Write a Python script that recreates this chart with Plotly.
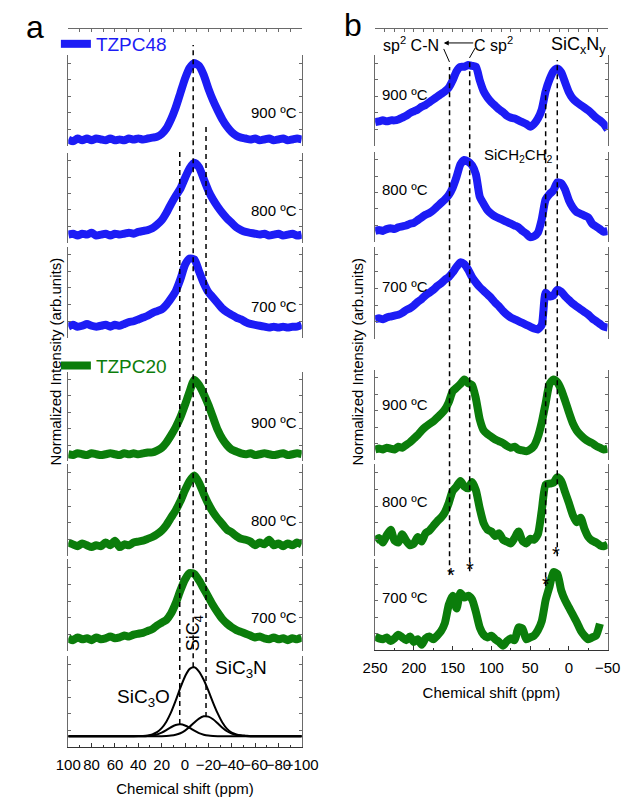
import plotly.graph_objects as go

W, H = 638, 797

# ---------------- data ----------------
# Panel a: 29Si spectra, chemical shift grid (ppm)
ppm_a = [100, 96, 92, 88, 84, 80, 76, 72, 68, 64, 60, 56, 52, 48, 44, 40, 36, 32, 28, 24,
         20, 16, 12, 8, 4, 0, -4, -8, -12, -16, -20, -24, -28, -32, -36, -40, -44, -48, -52, -56,
         -60, -64, -68, -72, -76, -80, -84, -88, -92, -96, -100]

a_tzpc48_900 = [0.07, 0.05, 0.08, 0.06, 0.08, 0.06, 0.08, 0.07, 0.06, 0.08, 0.06, 0.07, 0.06, 0.08, 0.07, 0.08, 0.07, 0.08, 0.09, 0.10,
                0.13, 0.19, 0.29, 0.42, 0.58, 0.74, 0.86, 0.91, 0.88, 0.78, 0.63, 0.50, 0.39, 0.29, 0.21, 0.15, 0.11, 0.09, 0.08, 0.07,
                0.08, 0.06, 0.07, 0.08, 0.06, 0.07, 0.08, 0.06, 0.07, 0.08, 0.07]
a_tzpc48_800 = [0.09, 0.10, 0.08, 0.10, 0.09, 0.11, 0.08, 0.09, 0.10, 0.08, 0.10, 0.09, 0.10, 0.11, 0.10, 0.12, 0.13, 0.14, 0.16, 0.20,
                0.25, 0.33, 0.43, 0.52, 0.60, 0.72, 0.83, 0.89, 0.84, 0.71, 0.58, 0.48, 0.40, 0.33, 0.27, 0.22, 0.17, 0.14, 0.12, 0.11,
                0.10, 0.09, 0.10, 0.08, 0.09, 0.10, 0.08, 0.09, 0.10, 0.08, 0.09]
a_tzpc48_700 = [0.12, 0.14, 0.12, 0.13, 0.15, 0.13, 0.12, 0.13, 0.14, 0.12, 0.14, 0.13, 0.15, 0.17, 0.18, 0.20, 0.22, 0.24, 0.27, 0.29,
                0.31, 0.36, 0.43, 0.51, 0.64, 0.80, 0.87, 0.86, 0.73, 0.60, 0.50, 0.44, 0.38, 0.32, 0.28, 0.25, 0.22, 0.20, 0.17, 0.15,
                0.14, 0.13, 0.12, 0.11, 0.12, 0.11, 0.12, 0.11, 0.12, 0.12, 0.14]
a_tzpc20_900 = [0.08, 0.07, 0.09, 0.08, 0.07, 0.09, 0.08, 0.07, 0.08, 0.09, 0.08, 0.07, 0.09, 0.08, 0.09, 0.08, 0.09, 0.10, 0.10, 0.12,
                0.15, 0.21, 0.29, 0.38, 0.49, 0.63, 0.78, 0.91, 0.85, 0.75, 0.63, 0.49, 0.35, 0.25, 0.18, 0.13, 0.11, 0.09, 0.08, 0.09,
                0.07, 0.08, 0.09, 0.08, 0.07, 0.08, 0.09, 0.07, 0.08, 0.09, 0.08]
a_tzpc20_800 = [0.15, 0.13, 0.11, 0.14, 0.12, 0.10, 0.12, 0.11, 0.15, 0.12, 0.17, 0.10, 0.13, 0.12, 0.15, 0.16, 0.17, 0.19, 0.21, 0.24,
                0.28, 0.34, 0.42, 0.50, 0.60, 0.72, 0.82, 0.88, 0.80, 0.68, 0.57, 0.48, 0.41, 0.35, 0.29, 0.26, 0.22, 0.19, 0.18, 0.16,
                0.12, 0.15, 0.13, 0.18, 0.12, 0.14, 0.11, 0.14, 0.12, 0.15, 0.13]
a_tzpc20_700 = [0.14, 0.12, 0.15, 0.13, 0.14, 0.12, 0.15, 0.13, 0.14, 0.16, 0.14, 0.15, 0.17, 0.16, 0.18, 0.19, 0.20, 0.22, 0.24, 0.28,
                0.31, 0.34, 0.41, 0.52, 0.66, 0.78, 0.85, 0.84, 0.77, 0.68, 0.59, 0.50, 0.42, 0.35, 0.30, 0.26, 0.23, 0.21, 0.19, 0.17,
                0.15, 0.16, 0.14, 0.13, 0.15, 0.13, 0.14, 0.12, 0.14, 0.13, 0.15]

# deconvolution components (bottom layer of panel a)
fit_sic4 = [0.12, 0.12, 0.12, 0.12, 0.12, 0.12, 0.12, 0.12, 0.12, 0.12, 0.12, 0.12, 0.12, 0.12, 0.12, 0.121, 0.123, 0.128, 0.14, 0.164,
            0.208, 0.279, 0.381, 0.51, 0.651, 0.777, 0.86, 0.878, 0.83, 0.74, 0.62, 0.49, 0.37, 0.27, 0.20, 0.16, 0.14, 0.13, 0.125, 0.12,
            0.12, 0.12, 0.12, 0.12, 0.12, 0.12, 0.12, 0.12, 0.12, 0.12, 0.12]
fit_sic3o = [0.12, 0.12, 0.12, 0.12, 0.12, 0.12, 0.12, 0.12, 0.12, 0.12, 0.12, 0.12, 0.12, 0.12, 0.12, 0.12, 0.12, 0.123, 0.128, 0.139,
             0.159, 0.187, 0.218, 0.242, 0.25, 0.237, 0.211, 0.18, 0.153, 0.136, 0.126, 0.122, 0.12, 0.12, 0.12, 0.12, 0.12, 0.12, 0.12, 0.12,
             0.12, 0.12, 0.12, 0.12, 0.12, 0.12, 0.12, 0.12, 0.12, 0.12, 0.12]
fit_sic3n = [0.12, 0.12, 0.12, 0.12, 0.12, 0.12, 0.12, 0.12, 0.12, 0.12, 0.12, 0.12, 0.12, 0.12, 0.12, 0.12, 0.12, 0.12, 0.12, 0.12,
             0.12, 0.122, 0.126, 0.135, 0.152, 0.181, 0.223, 0.27, 0.313, 0.338, 0.335, 0.306, 0.261, 0.213, 0.174, 0.148, 0.132, 0.125, 0.122, 0.12,
             0.12, 0.12, 0.12, 0.12, 0.12, 0.12, 0.12, 0.12, 0.12, 0.12, 0.12]

# Panel b: 13C spectra
ppm_b = [250, 245, 240, 235, 230, 225, 220, 215, 210, 205, 200, 195, 190, 185, 180, 175, 170, 165, 160, 155,
         150, 145, 140, 135, 130, 125, 120, 115, 110, 105, 100, 95, 90, 85, 80, 75, 70, 65, 60, 55,
         50, 45, 40, 35, 30, 25, 20, 15, 10, 5, 0, -5, -10, -15, -20, -25, -30, -35, -40, -45, -50]

b_tzpc48_900 = [0.26, 0.27, 0.28, 0.27, 0.28, 0.28, 0.29, 0.31, 0.33, 0.36, 0.38, 0.40, 0.43, 0.45, 0.48, 0.51, 0.54, 0.57, 0.60, 0.64,
                0.72, 0.82, 0.87, 0.87, 0.89, 0.88, 0.87, 0.72, 0.60, 0.53, 0.48, 0.44, 0.40, 0.37, 0.33, 0.31, 0.30, 0.28, 0.26, 0.24,
                0.21, 0.24, 0.30, 0.40, 0.60, 0.73, 0.82, 0.85, 0.81, 0.70, 0.59, 0.52, 0.48, 0.45, 0.42, 0.39, 0.35, 0.31, 0.28, 0.24, 0.18]
b_tzpc48_800 = [0.12, 0.13, 0.12, 0.14, 0.15, 0.14, 0.16, 0.17, 0.18, 0.20, 0.21, 0.24, 0.27, 0.30, 0.32, 0.35, 0.39, 0.43, 0.47, 0.52,
                0.60, 0.72, 0.86, 0.91, 0.89, 0.85, 0.75, 0.50, 0.42, 0.35, 0.31, 0.28, 0.26, 0.24, 0.22, 0.20, 0.18, 0.16, 0.12, 0.09,
                0.05, 0.06, 0.10, 0.25, 0.47, 0.53, 0.57, 0.66, 0.65, 0.58, 0.46, 0.38, 0.33, 0.31, 0.29, 0.27, 0.20, 0.17, 0.14, 0.11, 0.12]
b_tzpc48_700 = [0.21, 0.22, 0.21, 0.23, 0.24, 0.25, 0.26, 0.28, 0.31, 0.33, 0.36, 0.40, 0.43, 0.47, 0.50, 0.53, 0.57, 0.60, 0.64, 0.67,
                0.72, 0.78, 0.83, 0.81, 0.75, 0.67, 0.61, 0.56, 0.52, 0.48, 0.44, 0.39, 0.35, 0.30, 0.26, 0.23, 0.21, 0.19, 0.17, 0.15,
                0.13, 0.11, 0.10, 0.15, 0.50, 0.46, 0.47, 0.53, 0.51, 0.46, 0.42, 0.38, 0.35, 0.32, 0.29, 0.26, 0.22, 0.19, 0.16, 0.13, 0.12]
b_tzpc20_900 = [0.12, 0.13, 0.12, 0.14, 0.13, 0.12, 0.15, 0.14, 0.17, 0.20, 0.24, 0.28, 0.33, 0.37, 0.40, 0.43, 0.47, 0.51, 0.56, 0.64,
                0.76, 0.80, 0.84, 0.89, 0.85, 0.83, 0.68, 0.45, 0.33, 0.29, 0.26, 0.23, 0.21, 0.19, 0.16, 0.14, 0.15, 0.12, 0.11, 0.10,
                0.12, 0.16, 0.26, 0.42, 0.63, 0.84, 0.89, 0.86, 0.78, 0.66, 0.53, 0.41, 0.33, 0.28, 0.24, 0.21, 0.19, 0.16, 0.14, 0.12, 0.13]
b_tzpc20_800 = [0.17, 0.20, 0.15, 0.23, 0.29, 0.17, 0.15, 0.24, 0.17, 0.12, 0.14, 0.21, 0.16, 0.25, 0.28, 0.33, 0.38, 0.42, 0.48, 0.58,
                0.71, 0.76, 0.82, 0.76, 0.74, 0.81, 0.72, 0.52, 0.36, 0.29, 0.27, 0.22, 0.25, 0.18, 0.16, 0.14, 0.20, 0.27, 0.17, 0.14,
                0.19, 0.18, 0.24, 0.50, 0.78, 0.79, 0.80, 0.86, 0.82, 0.70, 0.58, 0.45, 0.37, 0.42, 0.30, 0.21, 0.17, 0.15, 0.12, 0.11, 0.13]
b_tzpc20_700 = [0.15, 0.13, 0.12, 0.14, 0.10, 0.13, 0.17, 0.14, 0.11, 0.15, 0.09, 0.12, 0.06, 0.13, 0.15, 0.12, 0.16, 0.21, 0.30, 0.50,
                0.60, 0.46, 0.63, 0.58, 0.60, 0.56, 0.42, 0.25, 0.17, 0.14, 0.16, 0.12, 0.09, 0.05, 0.10, 0.13, 0.11, 0.25, 0.24, 0.12,
                0.14, 0.16, 0.22, 0.32, 0.55, 0.70, 0.86, 0.84, 0.66, 0.55, 0.47, 0.39, 0.31, 0.22, 0.16, 0.12, 0.14, 0.16, 0.29, None, None]

temps = ["900 ºC", "800 ºC", "700 ºC"]
a_ref_ppm = [4.5, -7, -18]          # SiC3O, SiC4, SiC3N
b_ref_ppm = [154, 128, 30, 15]      # sp2 C-N, C sp2, SiCH2CH2, SiCxNy
b_star_ppm = [152, 128, 30, 17]

BLUE = "#1c1cf5"
GREEN = "#0b7d0b"
FONT = "Liberation Sans, Arial, sans-serif"

# ---------------- geometry (pixels) ----------------
A_L, A_R = 58, 303
B_L, B_R = 380, 624
segs_a = [(55, 146), (153, 243), (247, 338), (372, 462), (465, 557), (560, 652), (657, 748)]
segs_b = [(55, 146), (152, 242), (247, 339), (370, 461), (465, 557), (560, 651)]


def px(x):
    return x / W


def py(y):
    return 1 - y / H


fig = go.Figure()

a_series = [(a_tzpc48_900, BLUE, "TZPC48", "legend"), (a_tzpc48_800, BLUE, None, None), (a_tzpc48_700, BLUE, None, None),
            (a_tzpc20_900, GREEN, "TZPC20", "legend2"), (a_tzpc20_800, GREEN, None, None), (a_tzpc20_700, GREEN, None, None)]
for i, (vals, col, name, leg) in enumerate(a_series):
    yname = "y" if i == 0 else f"y{i + 1}"
    kw = dict(showlegend=False)
    if name:
        kw = dict(showlegend=True, name=name, legend=leg)
    fig.add_trace(go.Scatter(x=ppm_a, y=vals, xaxis="x", yaxis=yname, mode="lines",
                             line=dict(color=col, width=8, shape="spline", smoothing=0.6), hoverinfo="skip", **kw))

for vals in (fit_sic4, fit_sic3o, fit_sic3n):
    fig.add_trace(go.Scatter(x=ppm_a, y=vals, xaxis="x", yaxis="y7", mode="lines",
                             line=dict(color="black", width=2, shape="spline", smoothing=0.8),
                             showlegend=False, hoverinfo="skip"))

b_series = [(b_tzpc48_900, BLUE), (b_tzpc48_800, BLUE), (b_tzpc48_700, BLUE),
            (b_tzpc20_900, GREEN), (b_tzpc20_800, GREEN), (b_tzpc20_700, GREEN)]
for i, (vals, col) in enumerate(b_series):
    fig.add_trace(go.Scatter(x=ppm_b, y=vals, xaxis="x2", yaxis=f"y{i + 8}", mode="lines",
                             line=dict(color=col, width=8, shape="spline", smoothing=0.6),
                             showlegend=False, hoverinfo="skip"))

# dummy traces for the top frame axes
fig.add_trace(go.Scatter(x=[0], y=[0.5], xaxis="x3", yaxis="y", mode="markers",
                         marker=dict(opacity=0), showlegend=False, hoverinfo="skip"))
fig.add_trace(go.Scatter(x=[100], y=[0.5], xaxis="x4", yaxis="y8", mode="markers",
                         marker=dict(opacity=0), showlegend=False, hoverinfo="skip"))

AXC = "#6a6a6a"
yax_common = dict(range=[0, 1], showline=True, linecolor=AXC, linewidth=1, mirror="ticks", ticks="inside",
                  ticklen=3, tickcolor=AXC, tick0=0, dtick=0.182, showticklabels=False, showgrid=False,
                  zeroline=False, fixedrange=True)
layout = dict(width=W, height=H, margin=dict(l=0, r=0, t=0, b=0), plot_bgcolor="white",
              paper_bgcolor="white", font=dict(family=FONT, color="black"))
for i, (t, b) in enumerate(segs_a):
    name = "yaxis" if i == 0 else f"yaxis{i + 1}"
    layout[name] = dict(yax_common, domain=[py(b), py(t)], anchor="x")
for i, (t, b) in enumerate(segs_b):
    layout[f"yaxis{i + 8}"] = dict(yax_common, domain=[py(b), py(t)], anchor="x2")

xbase = dict(showline=True, linecolor="#333", linewidth=1, ticks="inside", ticklen=4, tickcolor="#333",
             tickmode="linear", tick0=0, showgrid=False, zeroline=False, fixedrange=True, tickangle=0,
             ticklabelstandoff=4, tickfont=dict(size=15, family=FONT, color="black"))
layout["xaxis"] = dict(xbase, domain=[px(A_L), px(A_R)], range=[100, -100], anchor="y7", dtick=20,
                       minor=dict(ticks="inside", ticklen=2, tickcolor="#333", dtick=10),
                       title=dict(text="Chemical shift (ppm)", font=dict(size=15), standoff=13))
layout["xaxis2"] = dict(xbase, domain=[px(B_L), px(B_R)], range=[250, -50], anchor="y13", dtick=50,
                        minor=dict(ticks="inside", ticklen=2, tickcolor="#333", dtick=25),
                        title=dict(text="Chemical shift (ppm)", font=dict(size=15), standoff=12))
top_common = dict(showline=True, linecolor=AXC, linewidth=1, ticks="inside", ticklen=3, tickcolor=AXC,
                  tickmode="linear", tick0=0, showticklabels=False, showgrid=False, zeroline=False,
                  fixedrange=True, side="top", anchor="free", position=py(28))
layout["xaxis3"] = dict(top_common, domain=[px(A_L), px(A_R)], range=[100, -100], dtick=10, overlaying="x")
layout["xaxis4"] = dict(top_common, domain=[px(B_L), px(B_R)], range=[250, -50], dtick=12.5, overlaying="x2")

layout["legend"] = dict(x=px(45), y=py(25), xanchor="left", yanchor="top", bgcolor="rgba(0,0,0,0)",
                        font=dict(size=19, color=BLUE, family=FONT), itemwidth=30, tracegroupgap=0)
layout["legend2"] = dict(x=px(45), y=py(347), xanchor="left", yanchor="top", bgcolor="rgba(0,0,0,0)",
                         font=dict(size=19, color=GREEN, family=FONT), itemwidth=30, tracegroupgap=0)
fig.update_layout(**layout)

# ---------------- dashed reference lines ----------------
DASH = dict(color="black", width=1.5, dash="5px,4px")
a_lines = [(150, 725), (45, 668), (125, 718)]
for p, (y0, y1) in zip(a_ref_ppm, a_lines):
    fig.add_shape(type="line", xref="x", yref="paper", x0=p, x1=p, y0=py(y1), y1=py(y0), line=DASH)
b_lines = [(67, 575), (60, 572), (90, 587), (60, 557)]
for p, (y0, y1) in zip(b_ref_ppm, b_lines):
    fig.add_shape(type="line", xref="x2", yref="paper", x0=p, x1=p, y0=py(y1), y1=py(y0), line=DASH)

# connector strokes next to the labels in panel b
fig.add_shape(type="line", xref="paper", yref="paper", x0=px(452), y0=py(49), x1=px(458), y1=py(62),
              line=dict(color="black", width=1))
fig.add_shape(type="line", xref="paper", yref="paper", x0=px(479), y0=py(58), x1=px(485), y1=py(48),
              line=dict(color="black", width=1))

# ---------------- text ----------------
def note(text, x, y, size=15, xanchor="center", angle=0, color="black"):
    fig.add_annotation(text=text, x=px(x), y=py(y), xref="paper", yref="paper", showarrow=False,
                       xanchor=xanchor, yanchor="middle", textangle=angle,
                       font=dict(size=size, color=color, family=FONT))

note("a", 23, 27, size=32)
note("b", 357, 25, size=32)

for t, y in zip(temps * 2, [113, 211, 307, 423, 521, 618]):
    note(t, 300, y, size=15, xanchor="right")
for t, y in zip(temps * 2, [95, 190, 287, 405, 502, 598]):
    note(t, 385, y, size=15, xanchor="left")

note("Normalized Intensity (arb.units)", 45, 362, size=15, angle=-90)
note("Normalized Intensity (arb.units)", 362, 362, size=15, angle=-90)

note("SiC<sub>4</sub>", 190, 634, size=18, angle=-90)
note("SiC<sub>3</sub>O", 137, 699, size=19)
note("SiC<sub>3</sub>N", 239, 670, size=19)

note("sp<sup>2</sup> C-N", 418, 44, size=16)
note("C sp<sup>2</sup>", 504, 44, size=16)
note("SiC<sub>x</sub>N<sub>y</sub>", 593, 46, size=18)
note("SiCH<sub>2</sub>CH<sub>2</sub>", 530, 156, size=15)

fig.add_annotation(x=px(452), y=py(43), xref="paper", yref="paper", ax=31, ay=0, axref="pixel", ayref="pixel",
                   text="", showarrow=True, arrowhead=2, arrowsize=1, arrowwidth=1, arrowcolor="black")

for p, y in zip(b_star_ppm, [589, 583, 598, 568]):
    fig.add_annotation(text="*", x=p, y=py(y), xref="x2", yref="paper", showarrow=False,
                       font=dict(size=20, color="black", family=FONT))

fig.write_html("out.html")
